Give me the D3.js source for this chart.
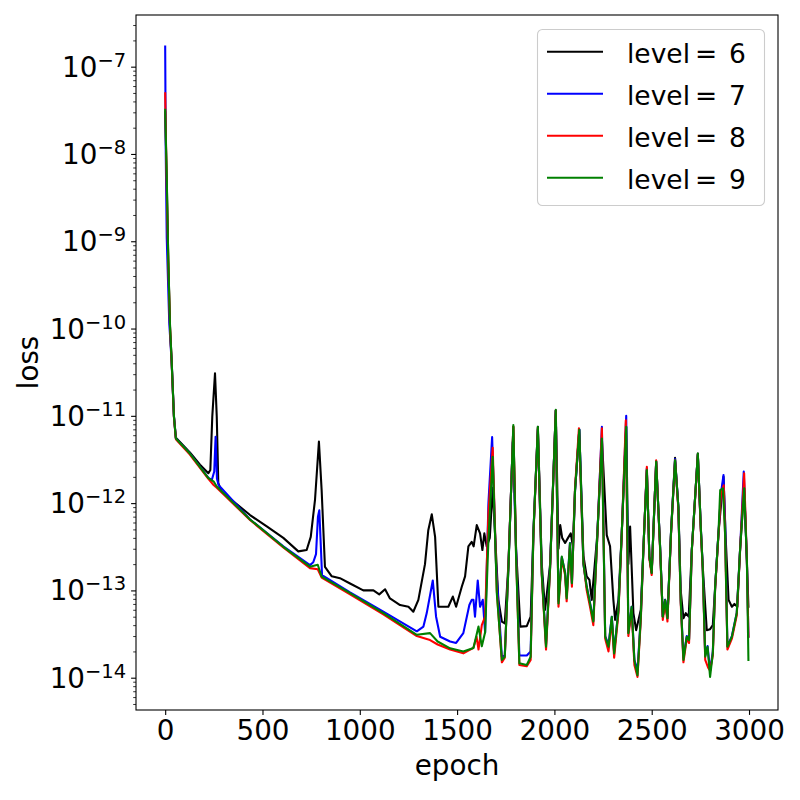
<!DOCTYPE html>
<html><head><meta charset="utf-8">
<script src="https://cdn.jsdelivr.net/npm/d3@7"></script>
<style>
body{margin:0;background:#fff}
text{font-family:"DejaVu Sans",sans-serif;fill:#000}
</style>
</head><body>
<svg id="c" width="800" height="800"></svg>
<script>
// ---------------- data ----------------
const xTicks = [0, 500, 1000, 1500, 2000, 2500, 3000];
const yTickExps = [-14, -13, -12, -11, -10, -9, -8, -7];
const yLimExp = [-14.37, -6.408];
const xLim = [-149.95, 3148.95];
const levels = [6, 7, 8, 9];
const colors = ["#000000", "#0000ff", "#ff0000", "#008000"];

const epochs6 = [0,8,16,25,33,45,55,127,179,222,232,242,256,265,273,290,350,436,522,607,684,727,748,770,790,804,821,856,898,950,1018,1070,1100,1130,1155,1207,1250,1275,1301,1335,1352,1370,1387,1404,1455,1478,1495,1524,1541,1558,1575,1585,1601,1618,1630,1640,1652,1668,1683,1712,1730,1745,1764,1789,1803,1825,1858,1878,1892,1915,1935,1952,1978,2007,2021,2030,2040,2055,2070,2084,2095,2106,2128,2149,2166,2180,2192,2221,2244,2269,2286,2303,2312,2329,2346,2369,2380,2389,2406,2420,2444,2457,2475,2488,2500,2523,2543,2557,2569,2581,2599,2620,2637,2649,2663,2675,2690,2706,2737,2752,2762,2783,2800,2814,2826,2843,2869,2880,2895,2912,2925,2940,2954,2975,2989,2997];
const loss6 = [3.0e-8,5.0e-9,6.0e-10,1.05e-10,4.4e-11,1.0e-11,5.6e-12,3.8e-12,2.75e-12,2.2e-12,2.4e-12,9.8e-12,3.07e-11,9.8e-12,1.7e-12,1.35e-12,1.05e-12,7.3e-13,5.4e-13,4.0e-13,2.8e-13,2.9e-13,4.1e-13,1.1e-12,5.06e-12,1.4e-12,1.86e-13,1.45e-13,1.38e-13,1.2e-13,1.0e-13,1.0e-13,9.0e-14,1.03e-13,8.1e-14,6.8e-14,6.5e-14,5.7e-14,7.8e-14,2.0e-13,4.9e-13,7.45e-13,4.1e-13,6.5e-14,6.5e-14,8.5e-14,6.5e-14,1.1e-13,1.45e-13,3.2e-13,3.6e-13,3.2e-13,5.6e-13,4.5e-13,2.9e-13,4.5e-13,3.2e-13,4.0e-13,1.5e-12,7.8e-14,4.4e-14,4.2e-14,2.0e-13,7.5e-12,3.0e-13,3.85e-14,3.9e-14,5.0e-14,4.5e-13,7.5e-12,2.0e-13,6.0e-14,2.0e-13,1.15e-11,3.0e-13,5.6e-13,4.0e-13,3.5e-13,4.0e-13,4.5e-13,3.2e-13,1.4e-12,6.9e-12,2.5e-13,1.45e-13,1.32e-13,7.8e-14,4.5e-13,5.5e-12,4.3e-13,3.2e-13,7.8e-14,4.6e-14,7.8e-14,4.5e-13,7.5e-12,2.0e-13,5.4e-13,5.5e-14,3.5e-14,6.0e-14,2.9e-13,2.4e-12,2.44e-13,1.6e-13,3.0e-12,3.2e-13,5.0e-14,7.8e-14,5.0e-14,4.5e-13,3.3e-12,9.0e-13,1.0e-13,4.8e-14,5.5e-14,5.0e-14,2.9e-13,3.7e-12,5.4e-13,1.9e-13,3.5e-14,3.6e-14,4.0e-14,1.1e-13,4.5e-13,2.0e-12,4.0e-13,7.8e-14,6.5e-14,7.0e-14,6.5e-14,2.9e-13,1.5e-12,2.2e-13,6.5e-14];

const epochs7 = [0,3,8,21,33,45,55,127,222,240,252,259,266,275,436,607,744,761,775,785,792,798,806,950,1121,1293,1327,1344,1375,1392,1413,1464,1495,1532,1563,1575,1584,1592,1606,1618,1632,1644,1661,1680,1700,1730,1745,1764,1786,1803,1820,1858,1878,1892,1915,1935,1957,1978,2007,2021,2038,2055,2063,2080,2090,2106,2128,2149,2166,2183,2200,2221,2244,2261,2278,2295,2307,2329,2346,2369,2380,2397,2411,2427,2444,2457,2475,2488,2500,2523,2543,2557,2569,2581,2599,2620,2637,2649,2663,2680,2692,2706,2737,2752,2762,2775,2787,2800,2814,2826,2843,2856,2869,2877,2889,2912,2937,2954,2973,2989,2997];
const loss7 = [1.7e-7,1.0e-8,1.1e-9,1.15e-10,4.2e-11,9.8e-12,5.5e-12,3.7e-12,1.95e-12,1.85e-12,2.3e-12,5.75e-12,1.9e-12,1.6e-12,6.5e-13,3.2e-13,1.95e-13,2.1e-13,2.6e-13,7.0e-13,8.3e-13,4.0e-13,1.5e-13,9.5e-14,5.7e-14,3.4e-14,3.85e-14,5.5e-14,1.3e-13,5.0e-14,2.95e-14,2.6e-14,2.5e-14,3.24e-14,6.8e-14,7.8e-14,7.8e-14,5.0e-14,1.3e-13,6.5e-14,7.8e-14,3.3e-14,1.0e-12,5.7e-12,2.0e-13,1.74e-14,1.8e-14,1.9e-13,5.0e-12,3.0e-13,1.8e-14,1.8e-14,2.0e-14,4.5e-13,7.0e-12,1.6e-13,2.4e-14,1.9e-13,1.15e-11,7.5e-14,2.4e-13,1.6e-13,8.5e-14,3.5e-13,1.2e-13,1.4e-12,7.0e-12,2.0e-13,1.1e-13,7.2e-14,4.5e-14,4.5e-13,7.5e-12,3.0e-14,2.4e-14,5.0e-14,2.0e-14,6.0e-14,4.5e-13,1.0e-11,3.3e-14,6.5e-14,1.6e-14,1.2e-14,5.0e-14,2.9e-13,2.5e-12,2.4e-13,1.6e-13,3.0e-12,3.2e-13,5.0e-14,7.8e-14,4.8e-14,4.5e-13,3.2e-12,9.0e-13,7.8e-14,1.7e-14,3.0e-14,2.8e-14,2.9e-13,3.6e-12,5.4e-13,1.9e-13,1.8e-14,2.3e-14,1.2e-14,2.0e-14,1.1e-13,4.5e-13,1.3e-12,2.1e-12,6.0e-13,2.3e-14,3.0e-14,5.5e-14,2.9e-13,2.3e-12,2.2e-13,2.95e-14];

const epochs8 = [0,8,16,25,33,45,55,127,222,250,265,436,607,744,784,804,950,1121,1293,1361,1400,1464,1532,1584,1600,1610,1627,1644,1661,1683,1704,1730,1745,1764,1789,1803,1820,1858,1878,1892,1915,1935,1957,1978,2007,2021,2038,2055,2063,2080,2090,2106,2126,2149,2166,2183,2200,2221,2244,2261,2278,2295,2307,2329,2346,2367,2380,2397,2411,2427,2444,2457,2475,2488,2500,2523,2543,2557,2569,2581,2599,2620,2637,2649,2663,2680,2692,2706,2737,2752,2762,2775,2790,2800,2814,2826,2843,2856,2870,2877,2889,2912,2937,2954,2975,2989,2997];
const loss8 = [4.95e-8,4.0e-9,5.5e-10,1.0e-10,4.2e-11,9.6e-12,5.4e-12,3.6e-12,1.9e-12,1.6e-12,1.5e-12,6.4e-13,3.1e-13,1.8e-13,1.75e-13,1.4e-13,9.0e-14,5.3e-14,3.0e-14,2.7e-14,2.4e-14,2.1e-14,1.9e-14,2.2e-14,2.95e-14,2.1e-14,4.0e-14,5.0e-14,7.8e-13,4.3e-12,1.0e-13,1.5e-14,1.7e-14,2.0e-13,7.5e-12,2.6e-13,1.4e-14,1.35e-14,1.6e-14,4.2e-13,7.2e-12,1.5e-13,2.1e-14,1.8e-13,1.15e-11,6.5e-14,2.3e-13,1.5e-13,7.5e-14,3.3e-13,1.1e-13,1.5e-12,7.2e-12,2.1e-13,1.0e-13,6.5e-14,4.0e-14,4.3e-13,7.2e-12,2.8e-14,2.0e-14,4.6e-14,1.7e-14,5.5e-14,4.3e-13,8.9e-12,3.0e-14,6.0e-14,1.4e-14,1.02e-14,4.6e-14,2.8e-13,2.6e-12,2.3e-13,1.5e-13,3.1e-12,3.0e-13,4.6e-14,7.2e-14,4.4e-14,4.3e-13,3.1e-12,8.5e-13,7.2e-14,1.5e-14,2.8e-14,2.5e-14,2.8e-13,3.6e-12,5.0e-13,1.8e-13,1.6e-14,1.3e-14,1.2e-14,1.8e-14,1.05e-13,4.3e-13,1.3e-12,1.6e-12,4.3e-13,2.1e-14,2.8e-14,5.2e-14,2.8e-13,2.2e-12,2.2e-13,2.95e-14];

const epochs9 = [0,8,16,25,33,45,55,127,222,250,265,436,607,744,784,804,950,1121,1293,1361,1400,1464,1532,1584,1610,1627,1644,1661,1683,1704,1730,1745,1764,1789,1803,1820,1858,1878,1892,1915,1935,1957,1978,2007,2021,2038,2055,2063,2080,2090,2106,2128,2149,2166,2183,2200,2221,2244,2261,2278,2295,2307,2329,2346,2369,2380,2397,2411,2427,2444,2457,2475,2488,2500,2523,2543,2557,2569,2581,2599,2620,2637,2649,2663,2680,2692,2706,2737,2752,2762,2775,2787,2800,2814,2826,2843,2852,2866,2877,2889,2912,2937,2954,2975,2989,2997];
const loss9 = [3.2e-8,5.5e-9,6.1e-10,1.05e-10,4.4e-11,9.8e-12,5.5e-12,3.7e-12,1.93e-12,1.76e-12,1.55e-12,6.5e-13,3.16e-13,1.87e-13,1.97e-13,1.44e-13,9.3e-14,5.5e-14,3.1e-14,3.24e-14,2.6e-14,2.17e-14,2.0e-14,2.19e-14,3.85e-14,2.29e-14,3.31e-14,3.8e-13,3.4e-12,9.3e-14,1.6e-14,1.74e-14,1.87e-13,7.85e-12,2.44e-13,1.46e-14,1.4e-14,1.74e-14,4.5e-13,7.5e-12,1.58e-13,2.26e-14,1.87e-13,1.17e-11,7.1e-14,2.44e-13,1.58e-13,8.1e-14,3.47e-13,1.21e-13,1.41e-12,6.9e-12,2.04e-13,1.1e-13,7.1e-14,4.4e-14,4.5e-13,5.5e-12,2.95e-14,2.26e-14,5.0e-14,1.9e-14,5.97e-14,4.5e-13,7.5e-12,3.24e-14,6.5e-14,1.58e-14,1.07e-14,5.0e-14,2.9e-13,2.4e-12,2.44e-13,1.58e-13,3.0e-12,3.16e-13,5.0e-14,7.76e-14,4.8e-14,4.5e-13,3.1e-12,9.1e-13,7.76e-14,1.6e-14,2.95e-14,2.7e-14,2.9e-13,3.7e-12,5.4e-13,1.87e-13,1.74e-14,2.26e-14,1.02e-14,1.9e-14,1.1e-13,4.5e-13,1.41e-12,1.48e-12,4.5e-13,2.26e-14,2.95e-14,5.5e-14,2.9e-13,1.48e-12,2.24e-13,1.6e-14];

const epochsBySeries = [epochs6, epochs7, epochs8, epochs9];
const lossBySeries = [loss6, loss7, loss8, loss9];

// ---------------- drawing ----------------
const svg = d3.select("#c");
const X0 = 136, X1 = 778, Y0 = 15, Y1 = 710;
const FS = 27.8;
const LFS = 26.5;

const x = d3.scaleLinear().domain(xLim).range([X0, X1]);
const y = d3.scaleLog().domain([Math.pow(10, yLimExp[0]), Math.pow(10, yLimExp[1])]).range([Y1, Y0]);

svg.append("rect").attr("width", 800).attr("height", 800).attr("fill", "#fff");

svg.append("clipPath").attr("id", "clip")
  .append("rect").attr("x", X0).attr("y", Y0).attr("width", X1 - X0).attr("height", Y1 - Y0);

const line = d3.line().x(d => x(d[0])).y(d => y(d[1]));
const gLines = svg.append("g").attr("clip-path", "url(#clip)");
levels.forEach((lv, i) => {
  gLines.append("path")
    .datum(d3.zip(epochsBySeries[i], lossBySeries[i]))
    .attr("d", line)
    .attr("fill", "none")
    .attr("stroke", colors[i])
    .attr("stroke-width", 2.08)
    .attr("stroke-linejoin", "round")
    .attr("stroke-linecap", "square");
});

// x axis
const gx = svg.append("g").attr("transform", `translate(0,${Y1})`)
  .call(d3.axisBottom(x).tickValues(xTicks).tickSize(4.9).tickPadding(4.9).tickFormat(d3.format("d")));
gx.select(".domain").remove();
gx.selectAll(".tick line").attr("stroke", "#000").attr("stroke-width", 1.1);
gx.selectAll(".tick text").attr("font-size", FS).attr("font-family", "DejaVu Sans").attr("fill", "#000");

// y axis major
const yMajor = yTickExps.map(e => Math.pow(10, e));
const gy = svg.append("g").attr("transform", `translate(${X0},0)`)
  .call(d3.axisLeft(y).tickValues(yMajor).tickSize(4.9).tickFormat(""));
gy.select(".domain").remove();
gy.selectAll(".tick line").attr("stroke", "#000").attr("stroke-width", 1.1);
gy.selectAll(".tick text").remove();

// y axis minor
const yMinor = [];
for (let e = -15; e <= -6; e++) for (let m = 2; m <= 9; m++) {
  const v = m * Math.pow(10, e);
  if (v > y.domain()[0] && v < y.domain()[1]) yMinor.push(v);
}
const gym = svg.append("g").attr("transform", `translate(${X0},0)`)
  .call(d3.axisLeft(y).tickValues(yMinor).tickSize(2.8).tickFormat(""));
gym.select(".domain").remove();
gym.selectAll(".tick line").attr("stroke", "#000").attr("stroke-width", 0.8);

// y labels with superscripts
yTickExps.forEach(e => {
  const t = svg.append("text")
    .attr("x", X0 - 9.8).attr("y", y(Math.pow(10, e)) + 10)
    .attr("text-anchor", "end").attr("font-size", FS);
  t.append("tspan").text("10");
  t.append("tspan").attr("font-size", 19.5).attr("dy", -10).text("\u2212" + Math.abs(e));
});

// frame
svg.append("rect").attr("x", X0).attr("y", Y0).attr("width", X1 - X0).attr("height", Y1 - Y0)
  .attr("fill", "none").attr("stroke", "#000").attr("stroke-width", 1.1);

// axis labels
svg.append("text").attr("x", (X0 + X1) / 2).attr("y", 775).attr("text-anchor", "middle")
  .attr("font-size", FS).text("epoch");
svg.append("text").attr("transform", `translate(38,${(Y0 + Y1) / 2}) rotate(-90)`)
  .attr("text-anchor", "middle").attr("font-size", FS).text("loss");

// legend
const lg = svg.append("g");
lg.append("rect").attr("x", 537.5).attr("y", 29.5).attr("width", 227).attr("height", 176)
  .attr("rx", 5).attr("fill", "#fff").attr("fill-opacity", 0.8)
  .attr("stroke", "#cccccc").attr("stroke-width", 1.1);
levels.forEach((lv, i) => {
  const ly = 51.7 + i * 42;
  lg.append("line").attr("x1", 547).attr("x2", 603).attr("y1", ly).attr("y2", ly)
    .attr("stroke", colors[i]).attr("stroke-width", 2.08);
  const t = lg.append("text").attr("y", ly + 11).attr("font-size", LFS);
  t.append("tspan").attr("x", 627).text("level");
  t.append("tspan").attr("dx", 5).text("=");
  t.append("tspan").attr("x", 729).text(String(lv));
});
</script>
</body></html>
